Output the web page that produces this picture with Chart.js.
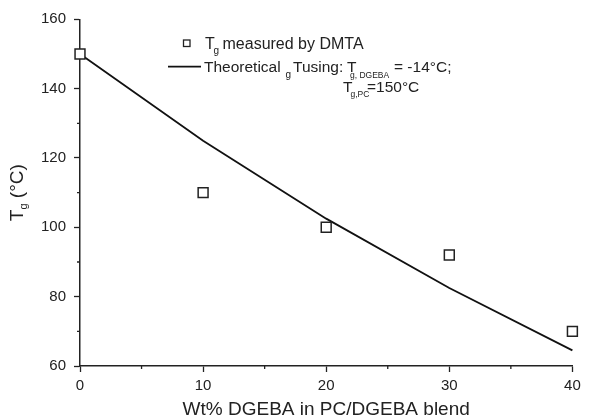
<!DOCTYPE html>
<html><head><meta charset="utf-8">
<script src="https://cdn.jsdelivr.net/npm/chart.js@4"></script>
<style>html,body{margin:0;padding:0;background:#fff}#wrap{width:594px;height:420px;position:relative}</style>
</head><body><div id="wrap"><canvas id="c"></canvas></div>
<script>
const wtPercent = [0, 10, 20, 30, 40];
const tgMeasured = [150, 110, 100, 92, 70];
const tgTheory = [150, 125, 102.5, 82.5, 64.5];
const xMinorTicks = [5, 15, 25, 35];
const yMinorTicks = [70, 90, 110, 130, 150];
const xTitle = 'Wt% DGEBA in PC/DGEBA blend';

const FONT = "'Liberation Sans', Arial, Helvetica, sans-serif";
const INK = '#222';

const extras = {
  id: 'extras',
  beforeDatasetsDraw(chart) {
    const ctx = chart.ctx;
    const xs = chart.scales.x, ys = chart.scales.y;
    const ca = chart.chartArea;
    ctx.save();
    ctx.strokeStyle = INK; ctx.lineWidth = 1.3;
    ctx.beginPath();
    xMinorTicks.forEach(v => { const p = xs.getPixelForValue(v); ctx.moveTo(p, ca.bottom); ctx.lineTo(p, ca.bottom + 3); });
    yMinorTicks.forEach(v => { const p = ys.getPixelForValue(v); ctx.moveTo(ca.left, p); ctx.lineTo(ca.left - 3, p); });
    ctx.stroke();
    ctx.restore();
  },
  afterDraw(chart) {
    const ctx = chart.ctx;
    const ca = chart.chartArea;
    ctx.save();
    // y title: T_g (°C)
    ctx.fillStyle = INK;
    ctx.save();
    ctx.translate(23, (ca.top + ca.bottom) / 2);
    ctx.rotate(-Math.PI / 2);
    ctx.textBaseline = 'alphabetic';
    const big = '19px ' + FONT, small = '11px ' + FONT;
    ctx.font = big; const wT = ctx.measureText('T').width; const wRest = ctx.measureText(' (°C)').width;
    ctx.font = small; const wg = ctx.measureText('g').width;
    let x0 = -(wT + wg + wRest) / 2;
    ctx.font = big; ctx.fillText('T', x0, 0);
    ctx.font = small; ctx.fillText('g', x0 + wT, 4);
    ctx.font = big; ctx.fillText(' (°C)', x0 + wT + wg, 0);
    ctx.restore();

    // legend
    const mds = chart.data.datasets[0], lds = chart.data.datasets[1];
    ctx.strokeStyle = mds.borderColor; ctx.lineWidth = 1.3;
    ctx.fillStyle = '#fff';
    ctx.fillRect(183.5, 40, 6.5, 6.5);
    ctx.strokeRect(183.5, 40, 6.5, 6.5);
    ctx.strokeStyle = lds.borderColor; ctx.lineWidth = lds.borderWidth;
    ctx.beginPath(); ctx.moveTo(168, 66.7); ctx.lineTo(201, 66.7); ctx.stroke();

    ctx.fillStyle = INK;
    const L = '16px ' + FONT, M = '15.5px ' + FONT, S = '10px ' + FONT, S2 = '8.5px ' + FONT;
    const put = (t, f, x, y) => { ctx.font = f; ctx.fillText(t, x, y); };
    put('T', L, 205, 48.5);
    put('g', S, 213.5, 53.5);
    put('measured by DMTA', L, 222.5, 48.5);

    put('Theoretical', M, 204, 72);
    put('g', S, 285.5, 77.5);
    put('Tusing:', M, 293, 72);
    put('T', M, 347, 72);
    put('g, DGEBA', S2, 350, 77.5);
    put('= -14°C;', M, 394, 72);

    put('T', M, 343, 92);
    put('g,PC', S2, 350.5, 97);
    put('=150°C', M, 367, 92);
    ctx.restore();
  }
};

new Chart(document.getElementById('c'), {
  type: 'scatter',
  data: {
    datasets: [
      {
        label: 'Tg measured by DMTA',
        data: wtPercent.map((x, i) => ({ x, y: tgMeasured[i] })),
        pointStyle: 'rect',
        pointRadius: 7,
        pointHoverRadius: 7,
        pointBorderWidth: 1.5,
        backgroundColor: '#fff',
        borderColor: '#222',
        showLine: false,
        clip: false,
        order: 0
      },
      {
        label: 'Theoretical Tg',
        data: wtPercent.map((x, i) => ({ x, y: tgTheory[i] })),
        showLine: true,
        pointRadius: 0,
        borderColor: '#111',
        borderWidth: 1.8,
        tension: 0,
        fill: false,
        clip: false,
        order: 1
      }
    ]
  },
  plugins: [extras],
  options: {
    responsive: true,
    maintainAspectRatio: false,
    animation: false,
    devicePixelRatio: 1,
    layout: { padding: { left: 0, right: 21.6, top: 19.3, bottom: 0 } },
    plugins: { legend: { display: false }, tooltip: { enabled: false } },
    scales: {
      x: {
        type: 'linear', min: 0, max: 40,
        afterFit(s) { s.height = 54; },
        ticks: { stepSize: 10, color: INK, font: { family: FONT, size: 15 }, padding: 5, maxRotation: 0 },
        grid: { drawOnChartArea: false, drawTicks: true, tickLength: 6, tickColor: INK, tickWidth: 1.3 },
        border: { display: true, color: INK, width: 1.5 },
        title: { display: true, text: xTitle, color: INK, font: { family: FONT, size: 19, lineHeight: 1 }, padding: { top: 0, bottom: 1 } }
      },
      y: {
        type: 'linear', min: 60, max: 160,
        afterFit(s) { s.width = 80; },
        ticks: { stepSize: 20, color: INK, font: { family: FONT, size: 15 }, padding: 8 },
        grid: { drawOnChartArea: false, drawTicks: true, tickLength: 6, tickColor: INK, tickWidth: 1.3 },
        border: { display: true, color: INK, width: 1.5 }
      }
    }
  }
});
</script>
</body></html>
